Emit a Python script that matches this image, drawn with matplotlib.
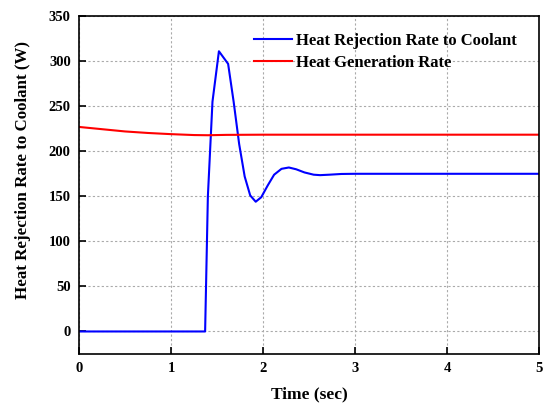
import matplotlib.pyplot as plt

plt.rcParams['font.family'] = ['Liberation Serif', 'DejaVu Serif']
plt.rcParams['font.weight'] = 'bold'

# Heat rejection rate to coolant (W) vs time (sec)
t_rej = [0.0, 1.37, 1.40, 1.45, 1.52, 1.62, 1.68, 1.74, 1.80, 1.86, 1.92, 1.98, 2.05,
         2.12, 2.20, 2.28, 2.36, 2.45, 2.55, 2.62, 2.72, 2.85, 3.0, 3.5, 4.0, 4.5, 5.0]
q_rej = [0.0, 0.0, 150, 255, 311, 297, 255, 208, 172, 151, 144, 149, 162,
         174, 180.5, 182, 180, 176.5, 174, 173.5, 174, 174.8, 175, 175, 175, 175, 175]

# Heat generation rate (W)
t_gen = [0.0, 0.25, 0.5, 0.75, 1.0, 1.25, 1.4, 1.6, 2.0, 3.0, 4.0, 5.0]
q_gen = [227, 224.5, 222, 220.3, 219, 218, 217.8, 218.2, 218.4, 218.4, 218.4, 218.4]

fig = plt.figure(figsize=(5.49, 4.03), dpi=100)
ax = fig.add_axes([0.144, 0.1216, 0.838, 0.8384])

ax.plot(t_rej, q_rej, color='blue', lw=1.5, label='Heat Rejection Rate to Coolant')
ax.plot(t_gen, q_gen, color='red', lw=1.5, label='Heat Generation Rate')

ax.set_xlim(0, 5)
ax.set_ylim(-25, 350)
ax.set_xticks([0, 1, 2, 3, 4, 5])
ax.set_yticks([0, 50, 100, 150, 200, 250, 300, 350])
ax.grid(True, color='#aaaaaa', ls=(0, (2, 2)), lw=0.8)
ax.tick_params(direction='in', length=5, width=1.2, labelsize=10.5, pad=6)
for s in ax.spines.values():
    s.set_linewidth(1.2)

ax.set_xlabel('Time (sec)', fontsize=12.5, fontweight='bold', labelpad=8)
ax.set_ylabel('Heat Rejection Rate to Coolant (W)', fontsize=12.2, fontweight='bold')
ax.yaxis.set_label_coords(-0.104, 0.546)

ax.legend(loc='upper left', bbox_to_anchor=(0.38, 0.95), frameon=False, borderpad=0,
          borderaxespad=0, prop={'size': 12, 'weight': 'bold'}, handlelength=2.3,
          handletextpad=0.25, labelspacing=0.35)

fig.savefig('out.png', dpi=100)
